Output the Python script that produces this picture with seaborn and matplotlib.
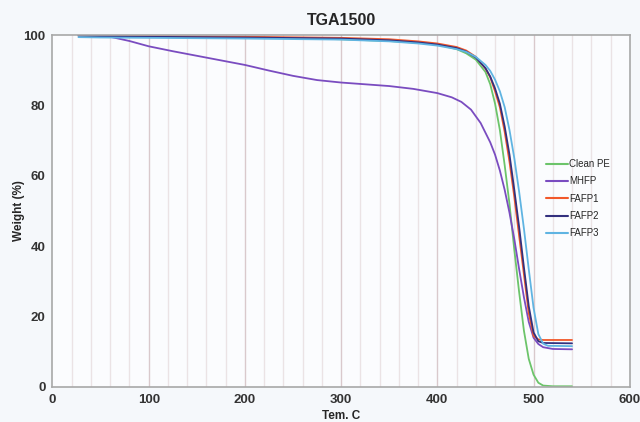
import seaborn as sns
import matplotlib.pyplot as plt
import pandas as pd

# Clean PE
temp_pe = [27, 50, 100, 150, 200, 250, 300, 350, 380, 400, 420, 430, 440, 450, 455, 460,
           465, 470, 475, 480, 485, 490, 495, 500, 505, 510, 520, 530, 540]
weight_pe = [100, 99.7, 99.5, 99.4, 99.3, 99.1, 98.8, 98.3, 97.8, 97.3, 96.0, 94.8, 93.0, 89.5, 86.0, 80.5,
             73, 63, 52, 39, 27, 16, 8, 3.5, 1.2, 0.4, 0.2, 0.2, 0.2]

# MHFP
temp_mhfp = [27, 50, 60, 80, 100, 125, 150, 175, 200, 225, 250, 275, 300, 325, 350, 375, 400, 415,
             425, 435, 445, 455, 460, 465, 470, 475, 480, 485, 490, 495, 500, 505, 510, 520, 540]
weight_mhfp = [100, 99.9, 99.5, 98.3, 96.8, 95.4, 94.1, 92.8, 91.5, 89.9, 88.4, 87.2, 86.5, 86.0, 85.5, 84.7, 83.5, 82.3,
               81, 78.8, 75, 69.5, 66, 61.5, 56, 49.5, 42, 33.5, 25.5, 18.5, 14, 12.2, 11.3, 10.8, 10.7]

# FAFP1
temp_f1 = [27, 50, 100, 200, 300, 350, 380, 400, 420, 430, 440, 450, 455, 460, 465, 470,
           475, 480, 485, 490, 495, 500, 505, 510, 540]
weight_f1 = [99.9, 99.8, 99.7, 99.5, 99.2, 98.8, 98.2, 97.6, 96.6, 95.6, 93.8, 90.5, 88, 84, 79.5, 72.5,
             64, 54, 43, 32, 21, 14.5, 13.5, 13.35, 13.35]

# FAFP2
temp_f2 = [27, 50, 100, 200, 300, 350, 380, 400, 420, 430, 440, 450, 455, 460, 465, 470,
           475, 480, 485, 490, 495, 500, 505, 510, 540]
weight_f2 = [99.8, 99.7, 99.5, 99.3, 99.0, 98.5, 97.9, 97.3, 96.3, 95.3, 93.6, 90.6, 88.2, 84.8, 80.5, 74,
             66, 56, 45.5, 34, 23, 15.5, 13.0, 12.5, 12.4]

# FAFP3
temp_f3 = [27, 50, 100, 200, 300, 350, 380, 400, 420, 430, 440, 450, 455, 460, 465, 470,
           475, 480, 485, 490, 495, 500, 505, 510, 515, 540]
weight_f3 = [99.4, 99.3, 99.2, 99.0, 98.7, 98.2, 97.6, 97.0, 96.0, 95.2, 93.8, 91.5, 89.8, 87.3, 84, 79.5,
             73, 65, 55.5, 45, 33.5, 22.5, 15, 12.3, 11.7, 11.6]

series = ['Clean PE', 'MHFP', 'FAFP1', 'FAFP2', 'FAFP3']
colors = ['#6cc46a', '#7a4cc0', '#f2582a', '#33307e', '#5fb4e2']

frames = []
for name, t, w in zip(series,
                      [temp_pe, temp_mhfp, temp_f1, temp_f2, temp_f3],
                      [weight_pe, weight_mhfp, weight_f1, weight_f2, weight_f3]):
    frames.append(pd.DataFrame({'Temp': t, 'Weight': w, 'Sample': name}))
df = pd.concat(frames, ignore_index=True)

sns.set_style('white')
plt.rcParams['font.family'] = ['Liberation Sans', 'DejaVu Sans']

fig = plt.figure(figsize=(6.4, 4.22), dpi=100)
fig.patch.set_facecolor('#f5f8fb')
ax = fig.add_axes([0.082, 0.083, 0.902, 0.834])
ax.set_facecolor('#fbfcfe')

# vertical grid every 20, darker at hundreds
for x in range(20, 600, 20):
    ax.axvline(x, color='#d9c9cc' if x % 100 == 0 else '#ebe3e5', lw=1.0, zorder=0)

sns.lineplot(data=df, x='Temp', y='Weight', hue='Sample', palette=dict(zip(series, colors)),
             sort=False, estimator=None, lw=1.3, ax=ax)

ax.set_xlim(0, 600)
ax.set_ylim(0, 100)
ax.set_xticks(range(0, 601, 100))
ax.set_yticks(range(0, 101, 20))
ax.tick_params(axis='both', labelsize=9.5, length=3, color='#999999', pad=2)
for lab in ax.get_xticklabels() + ax.get_yticklabels():
    lab.set_fontweight('bold')
    lab.set_color('#333333')
for s in ax.spines.values():
    s.set_color('#a8a8a8')
    s.set_linewidth(1.2)

ax.set_title('TGA1500', fontsize=11.5, fontweight='bold', pad=7)
ax.set_xlabel('Tem. C', fontsize=8.5, fontweight='bold', labelpad=3)
ax.set_ylabel('Weight (%)', fontsize=8.5, fontweight='bold')
ax.yaxis.set_label_coords(-0.048, 0.5)

leg = ax.legend(loc='center left', bbox_to_anchor=(0.84, 0.535), frameon=False, fontsize=7,
                handlelength=2.2, handletextpad=0.2, labelspacing=0.75)
for line in leg.get_lines():
    line.set_linewidth(1.5)

fig.savefig('out.png', dpi=100, facecolor=fig.get_facecolor())
